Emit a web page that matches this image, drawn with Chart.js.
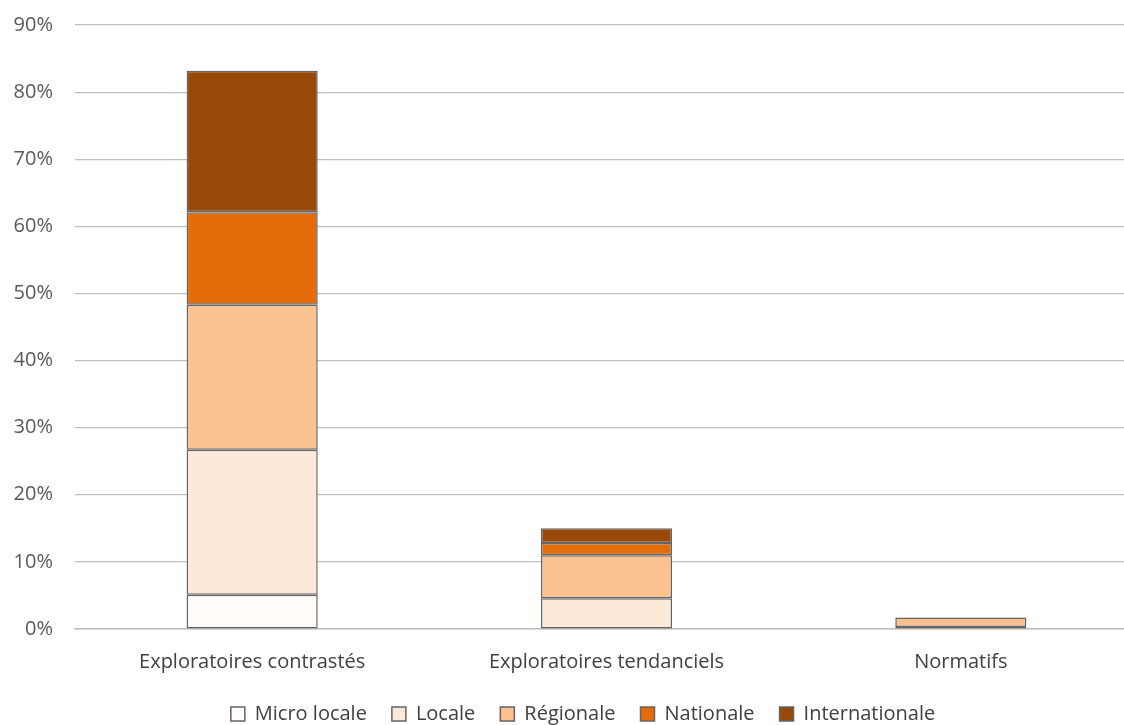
<!DOCTYPE html>
<html>
<head>
<meta charset="utf-8">
<script src="https://cdn.jsdelivr.net/npm/chart.js@4"></script>
<style>
  html, body { margin: 0; padding: 0; background: #fff; overflow: hidden; }
  #wrap { width: 1138px; height: 725px; }
</style>
</head>
<body>
<div id="wrap"><canvas id="graphique"></canvas></div>
<script>
// Données (en %)
const categories = ['Exploratoires contrastés', 'Exploratoires tendanciels', 'Normatifs'];
const microLocale = [5.1, 0, 0];
const locale = [21.6, 4.6, 0.3];
const regionale = [21.6, 6.4, 1.4];
const nationale = [13.8, 1.8, 0];
const internationale = [21.1, 2.2, 0];
const yTicks = [0, 10, 20, 30, 40, 50, 60, 70, 80, 90];

const police = "'Open Sans', 'Noto Sans', sans-serif";

function serie(label, valeurs, couleur) {
    return {
        label: label,
        data: valeurs,
        backgroundColor: couleur,
        borderColor: '#646464',
        // pas de bordure pour les segments nuls
        borderWidth: c => (c.raw ? 1.5 : 0),
        borderSkipped: false,
        categoryPercentage: 1,
        barPercentage: 0.37
    };
}

// hauteur fixe de la légende + léger décalage horizontal
const legendeFixe = {
    id: 'legendeFixe',
    beforeLayout(chart) {
        const leg = chart.legend;
        if (leg && !leg._patched) {
            const fit = leg.fit;
            leg.fit = function () {
                fit.call(this);
                this.height = 46;
            };
            leg._patched = true;
        }
    },
    afterLayout(chart) {
        const leg = chart.legend;
        if (leg) {
            leg.left += 14;
            leg.right += 14;
        }
    }
};

const ctx = document.getElementById('graphique');
new Chart(ctx, {
    type: 'bar',
    data: {
        labels: categories,
        datasets: [
            serie('Micro locale', microLocale, '#fffcf9'),
            serie('Locale', locale, '#fde9d9'),
            serie('Régionale', regionale, '#fac191'),
            serie('Nationale', nationale, '#e46c0a'),
            serie('Internationale', internationale, '#984807')
        ]
    },
    plugins: [legendeFixe],
    options: {
        responsive: true,
        maintainAspectRatio: false,
        animation: false,
        layout: { padding: { top: 25, left: 0, right: 0, bottom: 0 } },
        scales: {
            x: {
                stacked: true,
                grid: { display: false, drawTicks: false },
                border: { color: '#bfbfbf', width: 1.5 },
                ticks: { color: '#404040', padding: 21, font: { family: police, size: 20 } },
                afterFit: function (axis) { axis.height = 50; }
            },
            y: {
                stacked: true,
                min: 0,
                max: 90,
                afterBuildTicks: function (axis) {
                    axis.ticks = yTicks.map(v => ({ value: v }));
                },
                grid: { color: '#bfbfbf', lineWidth: 1.2, drawTicks: false },
                border: { display: false },
                ticks: {
                    color: '#595959',
                    padding: 22,
                    font: { family: police, size: 20 },
                    callback: v => v + '%'
                },
                afterFit: function (axis) {
                    axis.width = 75;
                    axis.paddingTop = 0;
                    axis.paddingBottom = 0;
                }
            }
        },
        plugins: {
            legend: {
                position: 'bottom',
                labels: {
                    color: '#404040',
                    boxWidth: 14,
                    boxHeight: 14,
                    padding: 25,
                    font: { family: police, size: 20 }
                }
            },
            tooltip: { enabled: false }
        }
    }
});
</script>
</body>
</html>
